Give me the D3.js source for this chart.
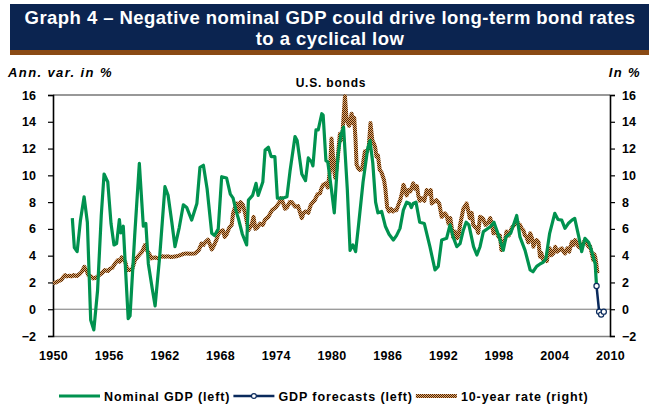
<!DOCTYPE html>
<html>
<head>
<meta charset="utf-8">
<script src="https://cdn.jsdelivr.net/npm/d3@7"></script>
<style>
  html, body { margin: 0; padding: 0; background: #fff; }
  svg { display: block; font-family: "Liberation Sans", Arial, sans-serif; }
</style>
</head>
<body>
<svg id="chart" width="660" height="407"></svg>
<script>
// Nominal GDP, annual variation in % (left axis): [year, value]
const nominalGdp = [
  [1952.08, 6.8], [1952.3, 4.6], [1952.6, 4.3], [1952.95, 6.6], [1953.35, 8.4], [1953.7, 6.5],
  [1954.06, -0.8], [1954.4, -1.55], [1954.8, 1.4], [1955.2, 7.0], [1955.5, 10.1], [1955.9, 9.5],
  [1956.25, 6.4], [1956.57, 4.8], [1956.85, 4.9], [1957.15, 6.7], [1957.3, 5.7], [1957.57, 6.2],
  [1957.85, 2.5], [1958.1, -0.7], [1958.3, -0.5], [1958.8, 5.5], [1959.3, 10.9], [1959.73, 6.2],
  [1960.0, 6.4], [1960.27, 3.4], [1960.7, 1.5], [1961.0, 0.25], [1961.5, 4.0], [1962.06, 9.15],
  [1962.4, 8.5], [1962.8, 6.5], [1963.14, 4.67], [1963.6, 6.1], [1964.04, 7.8], [1964.4, 7.6],
  [1964.94, 6.66], [1965.5, 7.9], [1965.83, 10.6], [1966.2, 10.75], [1966.6, 9.0], [1967.1, 5.67],
  [1967.4, 5.5], [1967.8, 6.0], [1968.17, 9.9], [1968.7, 9.8], [1969.1, 8.6], [1969.4, 8.3],
  [1969.7, 7.4], [1969.96, 6.8], [1970.4, 5.6], [1970.86, 4.8], [1971.05, 8.15], [1971.5, 8.5],
  [1971.87, 9.4], [1972.1, 8.5], [1972.6, 9.5], [1972.85, 11.9], [1973.2, 12.1], [1973.5, 11.4],
  [1973.9, 11.4], [1974.17, 8.3], [1974.8, 8.3], [1975.2, 8.4], [1975.53, 10.3], [1976.07, 12.9],
  [1976.3, 12.6], [1976.8, 10.1], [1977.2, 9.6], [1977.5, 11.3], [1977.85, 11.0], [1978.0, 10.7],
  [1978.33, 13.4], [1978.57, 13.4], [1978.95, 14.6], [1979.1, 14.5], [1979.4, 11.1], [1979.6, 11.0],
  [1980.0, 8.9], [1980.3, 7.2], [1980.7, 11.5], [1981.0, 13.0], [1981.3, 13.6], [1981.7, 9.0],
  [1982.0, 4.4], [1982.3, 4.8], [1982.6, 4.3], [1982.9, 6.2], [1983.4, 9.5], [1983.9, 12.0],
  [1984.15, 12.6], [1984.45, 10.9], [1984.75, 8.0], [1985.0, 7.2], [1985.4, 7.3], [1985.8, 6.2],
  [1986.2, 5.6], [1986.66, 5.17], [1987.0, 5.5], [1987.38, 6.04], [1987.74, 7.4], [1988.1, 8.0],
  [1988.4, 7.9], [1988.6, 7.6], [1988.8, 7.9], [1989.1, 8.0], [1989.5, 6.5], [1990.0, 6.4],
  [1990.6, 4.67], [1991.15, 2.93], [1991.5, 3.2], [1991.87, 5.17], [1992.4, 5.3], [1992.77, 6.3],
  [1993.1, 5.4], [1993.5, 4.67], [1993.85, 4.9], [1994.2, 5.9], [1994.5, 6.5], [1994.8, 6.3],
  [1995.3, 4.67], [1995.66, 4.05], [1996.0, 4.67], [1996.36, 5.8], [1997.1, 6.16], [1997.5, 6.5],
  [1998.0, 5.5], [1998.5, 4.4], [1998.8, 5.4], [1999.3, 5.67], [1999.95, 7.0], [2000.3, 5.4],
  [2000.85, 4.4], [2001.4, 2.93], [2001.7, 2.8], [2002.1, 3.2], [2002.5, 3.4], [2002.8, 3.5],
  [2003.1, 3.8], [2003.5, 5.67], [2004.05, 7.16], [2004.4, 6.7], [2004.8, 6.66], [2005.15, 6.04],
  [2005.5, 6.4], [2005.9, 6.66], [2006.2, 6.79], [2006.6, 5.54], [2006.95, 4.3], [2007.3, 5.3],
  [2007.7, 5.0], [2008.0, 4.4], [2008.4, 3.4], [2008.55, 1.73]
];

// GDP forecasts, annual variation in % (left axis)
const gdpForecasts = [
  [2008.55, 1.73], [2008.83, -0.18], [2009.05, -0.4], [2009.33, -0.18]
];

// 10-year Treasury rate, in % (right axis)
const tenYearRate = [
  [1950.0, 1.95], [1950.3, 2.0], [1950.6, 2.1], [1950.9, 2.2], [1951.1, 2.4], [1951.3, 2.55],
  [1951.5, 2.45], [1951.8, 2.5], [1952.0, 2.45], [1952.2, 2.55], [1952.55, 2.48], [1952.9, 2.65],
  [1953.1, 2.8], [1953.37, 3.17], [1953.6, 2.9], [1953.8, 2.55], [1954.1, 2.45], [1954.35, 2.3],
  [1954.6, 2.35], [1954.9, 2.5], [1955.2, 2.65], [1955.6, 2.93], [1955.9, 2.85], [1956.1, 3.0],
  [1956.4, 3.1], [1956.7, 3.43], [1957.0, 3.67], [1957.2, 3.55], [1957.4, 3.87], [1957.6, 3.7],
  [1957.8, 3.5], [1958.0, 2.93], [1958.2, 2.95], [1958.5, 2.93], [1958.83, 3.67], [1959.1, 3.9],
  [1959.37, 4.12], [1959.6, 4.3], [1959.9, 4.8], [1960.2, 4.3], [1960.4, 4.1], [1960.6, 3.8],
  [1960.8, 3.85], [1961.0, 3.87], [1961.3, 3.8], [1961.5, 3.87], [1961.8, 3.95], [1962.06, 3.92],
  [1962.4, 3.95], [1962.7, 3.9], [1962.96, 3.92], [1963.3, 3.95], [1963.7, 4.04], [1964.0, 4.12],
  [1964.4, 4.17], [1964.8, 4.15], [1965.3, 4.17], [1965.7, 4.4], [1966.0, 4.9], [1966.2, 4.8],
  [1966.4, 5.0], [1966.7, 5.2], [1967.1, 4.47], [1967.3, 4.7], [1967.6, 5.17], [1967.8, 5.6],
  [1968.0, 5.8], [1968.3, 5.9], [1968.5, 5.4], [1968.7, 5.6], [1969.0, 6.1], [1969.25, 6.3],
  [1969.4, 7.16], [1969.6, 7.6], [1969.8, 7.9], [1970.05, 7.3], [1970.2, 8.0], [1970.45, 7.8],
  [1970.7, 7.16], [1971.05, 5.9], [1971.4, 6.3], [1971.6, 6.9], [1971.8, 6.0], [1972.0, 6.1],
  [1972.3, 6.4], [1972.6, 6.3], [1972.85, 6.7], [1973.2, 6.9], [1973.6, 7.4], [1974.0, 7.6],
  [1974.4, 8.0], [1974.6, 8.3], [1974.8, 7.9], [1975.0, 7.5], [1975.2, 7.6], [1975.5, 8.0],
  [1975.7, 8.0], [1976.1, 7.65], [1976.4, 7.7], [1976.8, 6.8], [1977.0, 7.2], [1977.2, 7.3],
  [1977.5, 7.2], [1977.76, 7.78], [1978.0, 8.0], [1978.2, 8.15], [1978.5, 8.6], [1978.76, 8.65],
  [1978.9, 9.0], [1979.1, 9.3], [1979.4, 9.4], [1979.6, 9.1], [1979.84, 10.4], [1980.0, 12.76],
  [1980.15, 11.5], [1980.27, 10.5], [1980.4, 9.8], [1980.5, 10.3], [1980.7, 11.5], [1980.9, 13.1],
  [1981.0, 12.6], [1981.2, 13.3], [1981.45, 15.9], [1981.6, 14.4], [1981.7, 14.0], [1981.9, 13.7],
  [1982.17, 14.6], [1982.3, 13.9], [1982.45, 14.3], [1982.6, 12.5], [1982.7, 10.8], [1982.9, 10.5],
  [1983.07, 10.4], [1983.3, 10.5], [1983.4, 10.9], [1983.6, 11.8], [1983.8, 11.76], [1984.0, 12.0],
  [1984.2, 13.9], [1984.4, 12.6], [1984.55, 12.4], [1984.7, 12.1], [1984.85, 11.4], [1985.0, 11.5],
  [1985.2, 10.4], [1985.4, 10.2], [1985.66, 9.65], [1985.8, 9.0], [1986.0, 7.6], [1986.2, 7.3],
  [1986.4, 7.5], [1986.6, 7.3], [1986.8, 7.4], [1987.0, 7.4], [1987.2, 7.8], [1987.4, 8.15],
  [1987.6, 8.7], [1987.75, 9.3], [1987.9, 9.0], [1988.1, 8.5], [1988.3, 8.9], [1988.5, 8.8],
  [1988.8, 9.4], [1989.0, 9.0], [1989.2, 9.2], [1989.35, 8.5], [1989.5, 8.1], [1989.7, 8.3],
  [1990.0, 8.1], [1990.25, 8.9], [1990.5, 8.6], [1990.7, 8.9], [1990.8, 7.9], [1991.0, 8.0],
  [1991.3, 8.15], [1991.6, 7.9], [1991.87, 6.9], [1992.2, 7.16], [1992.4, 7.0], [1992.6, 6.4],
  [1992.8, 6.8], [1993.1, 5.4], [1993.3, 5.8], [1993.5, 5.3], [1993.7, 5.5], [1993.85, 6.3],
  [1994.2, 7.5], [1994.55, 7.9], [1994.75, 7.3], [1994.9, 6.8], [1995.1, 7.2], [1995.27, 6.3],
  [1995.5, 6.1], [1995.66, 6.04], [1995.8, 5.7], [1996.0, 6.9], [1996.3, 6.8], [1996.6, 6.3],
  [1996.9, 6.5], [1997.1, 6.8], [1997.3, 6.3], [1997.45, 5.67], [1997.7, 5.9], [1998.0, 5.4],
  [1998.15, 5.5], [1998.3, 4.42], [1998.5, 5.0], [1998.7, 5.2], [1998.85, 5.8], [1999.1, 5.5],
  [1999.4, 6.04], [1999.7, 6.3], [1999.95, 6.66], [2000.1, 6.4], [2000.3, 6.3], [2000.5, 6.0],
  [2000.66, 5.9], [2000.85, 5.5], [2001.0, 5.4], [2001.2, 5.0], [2001.4, 5.67], [2001.6, 5.3],
  [2001.75, 4.67], [2001.9, 5.0], [2002.1, 5.17], [2002.3, 5.0], [2002.46, 3.92], [2002.6, 4.2],
  [2002.8, 3.67], [2003.0, 3.8], [2003.2, 3.6], [2003.4, 4.42], [2003.5, 4.55], [2003.7, 4.04],
  [2003.9, 4.17], [2004.1, 4.67], [2004.3, 4.3], [2004.5, 4.4], [2004.8, 4.55], [2005.0, 4.3],
  [2005.15, 4.17], [2005.4, 4.55], [2005.6, 4.3], [2005.9, 5.04], [2006.05, 4.8], [2006.25, 5.17],
  [2006.45, 4.9], [2006.6, 4.67], [2006.8, 4.6], [2006.95, 4.79], [2007.1, 4.9], [2007.3, 5.17],
  [2007.5, 4.9], [2007.7, 4.67], [2007.85, 4.7], [2008.0, 4.3], [2008.2, 3.67], [2008.3, 4.1],
  [2008.4, 3.92], [2008.5, 3.5], [2008.65, 2.68]
];

const yearTicks = [1950, 1956, 1962, 1968, 1974, 1980, 1986, 1992, 1998, 2004, 2010];
const valueTicks = [-2, 0, 2, 4, 6, 8, 10, 12, 14, 16];

const titleLines = [
  "Graph 4 \u2013 Negative nominal GDP could drive long-term bond rates",
  "to a cyclical low"
];

const svg = d3.select("#chart");
const font = "'Liberation Sans', Arial, sans-serif";

// Checkered stroke used for the 10-year rate
const defs = svg.append("defs");
const pat = defs.append("pattern")
  .attr("id", "checker")
  .attr("patternUnits", "userSpaceOnUse")
  .attr("width", 2).attr("height", 2);
pat.append("rect").attr("width", 2).attr("height", 2).attr("fill", "#e9a86a");
pat.append("rect").attr("width", 1).attr("height", 1).attr("fill", "#4a2608");
pat.append("rect").attr("x", 1).attr("y", 1).attr("width", 1).attr("height", 1).attr("fill", "#4a2608");

// Title banner
svg.append("rect").attr("x", 10).attr("y", 4).attr("width", 639).attr("height", 47).attr("fill", "#0b2450");
svg.append("rect").attr("x", 10).attr("y", 50).attr("width", 639).attr("height", 5).attr("fill", "#8a4a14");
svg.selectAll(".title").data(titleLines).join("text")
  .attr("class", "title")
  .attr("x", 330).attr("y", (d, i) => 24 + i * 21)
  .attr("text-anchor", "middle")
  .attr("fill", "#fff")
  .attr("font-size", 18.5).attr("font-weight", "bold")
  .attr("letter-spacing", 0.45)
  .text(d => d);

// Axis captions
svg.append("text").attr("x", 8).attr("y", 77).attr("font-size", 13)
  .attr("font-weight", "bold").attr("font-style", "italic").attr("letter-spacing", 1.4)
  .text("Ann. var. in %");
svg.append("text").attr("x", 641).attr("y", 77).attr("font-size", 13).attr("text-anchor", "end")
  .attr("font-weight", "bold").attr("font-style", "italic").attr("letter-spacing", 1.4)
  .text("In %");
svg.append("text").attr("x", 331).attr("y", 87).attr("font-size", 12).attr("text-anchor", "middle")
  .attr("font-weight", "bold").attr("letter-spacing", 0.8).text("U.S. bonds");

// Scales
const x = d3.scaleLinear().domain([1950, 2010]).range([53, 610]);
const yL = d3.scaleLinear().domain([-2, 16]).range([336, 95]);
const yR = d3.scaleLinear().domain([-2, 16]).range([336, 95]);

// Frame: top border, zero line
svg.append("line").attr("x1", x(1950)).attr("x2", x(2010)).attr("y1", yL(16)).attr("y2", yL(16))
  .attr("stroke", "#333").attr("stroke-width", 1.2);
svg.append("line").attr("x1", x(1950)).attr("x2", x(2010)).attr("y1", yL(0)).attr("y2", yL(0))
  .attr("stroke", "#777").attr("stroke-width", 1);

// X axis (labels only, gray baseline)
const gx = svg.append("g").attr("transform", `translate(0,${yL(-2)})`)
  .call(d3.axisBottom(x).tickValues(yearTicks).tickFormat(d3.format("d")).tickSize(0).tickPadding(15));
gx.select(".domain").attr("stroke", "#808080").attr("stroke-width", 1.6);
gx.selectAll("text").attr("font-family", font).attr("font-size", 12.5).attr("font-weight", "bold")
  .attr("fill", "#000").attr("letter-spacing", 0.3);

// Left axis
const gl = svg.append("g").attr("transform", `translate(${x(1950)},0)`)
  .call(d3.axisLeft(yL).tickValues(valueTicks).tickSizeOuter(0).tickSize(5).tickPadding(12));
gl.select(".domain").attr("stroke", "#000").attr("stroke-width", 1.6);
gl.selectAll(".tick line").attr("stroke", "#000").attr("stroke-width", 1.2);
gl.selectAll("text").attr("font-family", font).attr("font-size", 12.5).attr("font-weight", "bold").attr("fill", "#000");

// Right axis
const gr = svg.append("g").attr("transform", `translate(${x(2010)},0)`)
  .call(d3.axisRight(yR).tickValues(valueTicks).tickSizeOuter(0).tickSize(5).tickPadding(7));
gr.select(".domain").attr("stroke", "#000").attr("stroke-width", 1.6);
gr.selectAll(".tick line").attr("stroke", "#000").attr("stroke-width", 1.2);
gr.selectAll("text").attr("font-family", font).attr("font-size", 12.5).attr("font-weight", "bold").attr("fill", "#000");

// Series
const lineL = d3.line().x(d => x(d[0])).y(d => yL(d[1]));
const lineR = d3.line().x(d => x(d[0])).y(d => yR(d[1]));

svg.append("path").datum(tenYearRate).attr("d", lineR)
  .attr("fill", "none").attr("stroke", "url(#checker)").attr("stroke-width", 4)
  .attr("stroke-linejoin", "round");

svg.append("path").datum(nominalGdp).attr("d", lineL)
  .attr("fill", "none").attr("stroke", "#00924f").attr("stroke-width", 3.2)
  .attr("stroke-linejoin", "round");

svg.append("path").datum(gdpForecasts).attr("d", lineL)
  .attr("fill", "none").attr("stroke", "#0a2a5c").attr("stroke-width", 2.5);
svg.selectAll(".fc").data(gdpForecasts).join("circle")
  .attr("class", "fc")
  .attr("cx", d => x(d[0])).attr("cy", d => yL(d[1])).attr("r", 2.6)
  .attr("fill", "#fff").attr("stroke", "#0a2a5c").attr("stroke-width", 1.2);

// Legend: swatch followed by its label, laid out left to right
const legend = [
  { label: "Nominal GDP (left)", kind: "gdp" },
  { label: "GDP forecasts (left)", kind: "fc" },
  { label: "10-year rate (right)", kind: "rate" }
];
const ly = 396;
const lg = svg.append("g");
let cx = 59;
legend.forEach(l => {
  const x0 = cx, x1 = cx + 41;
  if (l.kind === "gdp") {
    lg.append("line").attr("x1", x0).attr("x2", x1).attr("y1", ly).attr("y2", ly)
      .attr("stroke", "#00924f").attr("stroke-width", 3);
  } else if (l.kind === "fc") {
    lg.append("line").attr("x1", x0).attr("x2", x1).attr("y1", ly).attr("y2", ly)
      .attr("stroke", "#0a2a5c").attr("stroke-width", 2.5);
    lg.append("circle").attr("cx", (x0 + x1) / 2).attr("cy", ly).attr("r", 2.4)
      .attr("fill", "#fff").attr("stroke", "#0a2a5c").attr("stroke-width", 1.1);
  } else {
    lg.append("rect").attr("x", x0).attr("y", ly - 2).attr("width", x1 - x0).attr("height", 4)
      .attr("fill", "url(#checker)");
  }
  const t = lg.append("text").attr("x", x1 + 4).attr("y", ly + 4.5).attr("font-size", 12.5)
    .attr("font-weight", "bold").attr("letter-spacing", 0.9).text(l.label);
  cx = x1 + 4 + t.node().getComputedTextLength() + 3;
});
</script>
</body>
</html>
